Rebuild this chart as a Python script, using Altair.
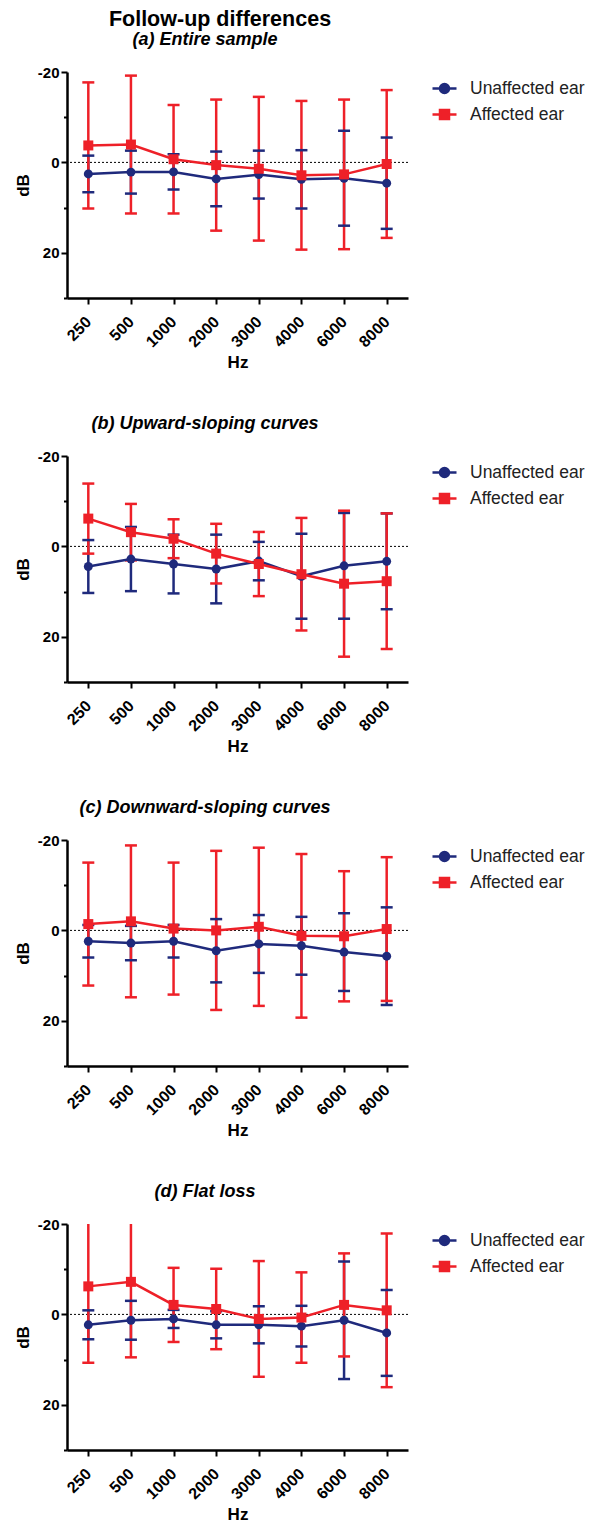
import altair as alt
import pandas as pd

freqs = ["250", "500", "1000", "2000", "3000", "4000", "6000", "8000"]
series_names = ["Unaffected ear", "Affected ear"]
panel_titles = ["(a) Entire sample", "(b) Upward-sloping curves",
                "(c) Downward-sloping curves", "(d) Flat loss"]
zero_line = [0]

# (a) Entire sample
a_unaff_mean = [2.55, 2.15, 2.1, 3.65, 2.7, 3.75, 3.5, 4.6]
a_unaff_sd = [4.05, 4.75, 3.9, 6.05, 5.3, 6.45, 10.5, 10.1]
a_aff_mean = [-3.75, -3.95, -0.7, 0.6, 1.4, 2.85, 2.65, 0.35]
a_aff_sd = [13.95, 15.25, 12.0, 14.5, 15.9, 16.45, 16.55, 16.35]

# (b) Upward-sloping curves
b_unaff_mean = [4.45, 2.8, 3.9, 5.0, 3.25, 6.6, 4.3, 3.3]
b_unaff_sd = [5.85, 7.1, 6.5, 7.6, 4.25, 9.4, 11.7, 10.6]
b_aff_mean = [-6.15, -3.15, -1.7, 1.6, 3.9, 6.15, 8.25, 7.7]
b_aff_sd = [7.75, 6.25, 4.3, 6.6, 7.1, 12.45, 16.15, 15.0]

# (c) Downward-sloping curves
c_unaff_mean = [2.4, 2.8, 2.4, 4.5, 3.0, 3.4, 4.8, 5.7]
c_unaff_sd = [3.6, 3.8, 3.6, 7.0, 6.4, 6.4, 8.6, 10.8]
c_aff_mean = [-1.4, -2.0, -0.4, 0.0, -0.8, 1.2, 1.3, -0.3]
c_aff_sd = [13.6, 16.8, 14.6, 17.6, 17.5, 18.1, 14.4, 15.9]

# (d) Flat loss
d_unaff_mean = [2.3, 1.3, 1.0, 2.3, 2.3, 2.6, 1.3, 4.1]
d_unaff_sd = [3.2, 4.3, 2.0, 3.0, 4.1, 4.5, 13.0, 9.5]
d_aff_mean = [-6.2, -7.2, -2.1, -1.2, 1.0, 0.7, -2.1, -0.9]
d_aff_sd = [16.9, 16.7, 8.2, 8.9, 12.8, 10.0, 11.4, 17.0]

panels = [
    (a_unaff_mean, a_unaff_sd, a_aff_mean, a_aff_sd),
    (b_unaff_mean, b_unaff_sd, b_aff_mean, b_aff_sd),
    (c_unaff_mean, c_unaff_sd, c_aff_mean, c_aff_sd),
    (d_unaff_mean, d_unaff_sd, d_aff_mean, d_aff_sd),
]

BLUE = "#1F2A7C"
RED = "#EE2028"
FONT = "Liberation Sans"

CIRCLE_PATH = "M-1.2,0H1.2M0.45,0A0.45,0.45,0,1,1,-0.45,0A0.45,0.45,0,1,1,0.45,0Z"
SQUARE_PATH = "M-1.2,0H1.2M-0.45,-0.45H0.45V0.45H-0.45Z"

y_scale = alt.Scale(domain=[-20, 30], reverse=True, nice=False, zero=False)
x_scale = alt.Scale(type="point", padding=0.5)

x_axis = alt.Axis(labelAngle=-45, labelAlign="right", labelBaseline="middle",
                  labelFontSize=16, labelFontWeight="bold",
                  labelFont=FONT, labelColor="black", titleFont=FONT,
                  titleFontSize=17, titleFontWeight="bold", titleColor="black",
                  tickSize=6, tickWidth=2, tickColor="black", domainWidth=2.5,
                  domainColor="black", grid=False, labelPadding=15, titlePadding=5)
y_axis = alt.Axis(values=[-20, -10, 0, 10, 20, 30],
                  labelExpr="datum.value % 20 === 0 ? replace(datum.label, '\u2212', '-') : ''",
                  labelFontSize=15, labelFontWeight="bold", labelFont=FONT,
                  labelColor="black", titleFont=FONT, titleFontSize=17,
                  titleFontWeight="bold", titleColor="black",
                  tickSize={"condition": {"test": "datum.value % 20 === 0", "value": 6},
                            "value": 3.5},
                  tickWidth=2, tickColor="black", domainWidth=2.5,
                  domainColor="black", grid=False, labelPadding=2, titlePadding=5)


def build_df(p):
    um, us, am, asd = p
    rows = []
    for i, f in enumerate(freqs):
        rows.append({"freq": f, "series": series_names[0], "mean": um[i], "sd": us[i]})
    for i, f in enumerate(freqs):
        rows.append({"freq": f, "series": series_names[1], "mean": am[i], "sd": asd[i]})
    return pd.DataFrame(rows)


X = alt.X("freq:N", sort=freqs, scale=x_scale, axis=x_axis, title="Hz")


def Y(field):
    return alt.Y(field, scale=y_scale, axis=y_axis, title="dB")


def make_panel(df, title):
    base = alt.Chart(df).transform_calculate(
        lo="datum.mean - datum.sd", hi="datum.mean + datum.sd"
    )
    blue = base.transform_filter(alt.datum.series == series_names[0])
    red = base.transform_filter(alt.datum.series == series_names[1])

    xaxis_layer = alt.Chart(df).mark_point(opacity=0).encode(x=X, y=Y("mean:Q"))

    zero = alt.Chart(pd.DataFrame({"z": zero_line})).mark_rule(
        color="black", strokeWidth=1, strokeDash=[2, 2]
    ).encode(y=Y("z:Q"))

    def rules(src, col):
        return src.mark_rule(color=col, strokeWidth=2.5, clip=True).encode(
            x=X, y=Y("lo:Q"), y2="hi:Q")

    def caps(src, col, fld):
        return src.mark_tick(color=col, thickness=2.5, size=12, clip=True, opacity=1).encode(
            x=X, y=Y(f"{fld}:Q"))

    def line(src, col):
        return src.mark_line(color=col, strokeWidth=2.5, clip=True).encode(
            x=X, y=Y("mean:Q"))

    def pts(src, col, shape, size):
        return src.mark_point(color=col, filled=True, opacity=1, shape=shape,
                              size=size, clip=True).encode(x=X, y=Y("mean:Q"))

    legend_layer = alt.Chart(df).transform_filter("false").mark_point(
        filled=True, opacity=1, size=400).encode(
        x=X, y=Y("mean:Q"),
        fill=alt.Fill("series:N", scale=alt.Scale(domain=series_names, range=[BLUE, RED]),
                      legend=alt.Legend(title=None)),
        stroke=alt.Stroke("series:N", scale=alt.Scale(domain=series_names, range=[BLUE, RED]),
                          legend=alt.Legend(title=None)),
        shape=alt.Shape("series:N", scale=alt.Scale(domain=series_names,
                                                    range=[CIRCLE_PATH, SQUARE_PATH]),
                        legend=alt.Legend(title=None)),
    )

    layered = alt.layer(
        xaxis_layer, zero,
        rules(blue, BLUE), rules(red, RED),
        caps(blue, BLUE, "lo"), caps(blue, BLUE, "hi"),
        caps(red, RED, "lo"), caps(red, RED, "hi"),
        line(blue, BLUE), pts(blue, BLUE, "circle", 80),
        line(red, RED), pts(red, RED, "square", 100),
        legend_layer,
    ).properties(
        width=341, height=226,
        title=alt.Title(title, fontSize=18, fontWeight="bold", fontStyle="italic",
                        font=FONT, color="black", anchor="start", align="center",
                        frame="group", dx=138, offset=16),
    )
    return layered


charts = [make_panel(build_df(p), t) for p, t in zip(panels, panel_titles)]

chart = alt.vconcat(*charts, spacing=44).resolve_scale(
    fill="independent", stroke="independent", shape="independent"
).resolve_legend(
    fill="independent", stroke="independent", shape="independent"
).properties(
    title=alt.Title("Follow-up differences", fontSize=21.5, fontWeight="bold", font=FONT,
                    color="black", anchor="start", align="center", frame="group",
                    dx=153, offset=1),
    padding={"top": 0, "left": 6, "right": 0, "bottom": 0},
).configure_view(stroke=None).configure_legend(
    orient="right", offset=20, padding=5, symbolSize=400, symbolStrokeWidth=2.5,
    labelFont=FONT, labelFontSize=17.5, labelColor="#222222", labelOffset=14,
    rowPadding=5, labelLimit=300,
)

chart.save("out.html", embed_options={"renderer": "svg", "actions": False})
